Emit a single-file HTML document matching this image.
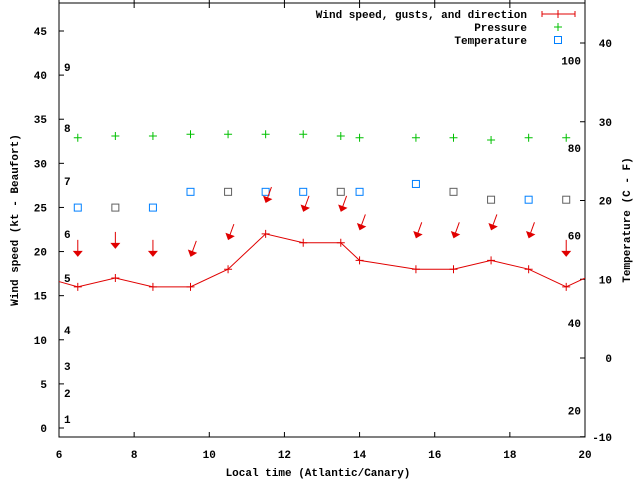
<!DOCTYPE html>
<html><head><meta charset="utf-8"><style>
body{margin:0;background:#fff}
svg{display:block;font-family:"Liberation Mono",monospace;font-size:11px;font-weight:bold}
</style></head><body>
<svg id="c" width="640" height="480" xmlns="http://www.w3.org/2000/svg"></svg>
<script>
const windHours=[6,6.5,7.5,8.5,9.5,10.5,11.5,12.5,13.5,14,15.5,16.5,17.5,18.5,19.5,20];
const windSpeeds=[16.6,16,17,16,16,18,22,21,21,19,18,18,19,18,16,17];
const arrowHours=[6.5,7.5,8.5,9.5,10.5,11.5,12.5,13.5,14,15.5,16.5,17.5,18.5,19.5];
const gustValues=[19.4,20.3,19.4,19.4,21.3,25.5,24.5,24.5,22.4,21.5,21.5,22.4,21.5,19.4];
const windDirs=[0,0,0,20,20,20,20,20,20,20,20,20,20,0];
const pressHours=[6.5,7.5,8.5,9.5,10.5,11.5,12.5,13.5,14,15.5,16.5,17.5,18.5,19.5];
const pressValues=[32.9,33.1,33.1,33.3,33.3,33.3,33.3,33.1,32.9,32.9,32.9,32.65,32.9,32.9];
const tempHours=[6.5,7.5,8.5,9.5,10.5,11.5,12.5,13.5,14,15.5,16.5,17.5,18.5,19.5];
const tempValues=[19.1,19.1,19.1,21.1,21.1,21.1,21.1,21.1,21.1,22.1,21.1,20.1,20.1,20.1];
const tempGray=[0,1,0,0,1,0,0,1,0,0,1,1,0,1];
const xTicks=[6,8,10,12,14,16,18,20];
const yTicks=[0,5,10,15,20,25,30,35,40,45];
const y2Ticks=[-10,0,10,20,30,40];
const beaufort=[[1,419],[2,393],[3,366],[4,330],[5,278],[6,234],[7,181],[8,128],[9,67]];
const fahr=[20,40,60,80,100];

const L=59,R=585,T=3,B=437;
const X=h=>L+(h-6)/14*(R-L);
const Y=v=>428-v*(428-31)/45;
const Y2=c=>358-c*(358-43)/40;
const svg=document.getElementById('c');
const NS='http://www.w3.org/2000/svg';
function mk(tag,a,parent){const e=document.createElementNS(NS,tag);for(const k in a)e.setAttribute(k,a[k]);(parent||svg).appendChild(e);return e;}
function txt(s,x,y,anchor){const e=mk('text',{x:x,y:y,'text-anchor':anchor||'start'});e.textContent=s;return e;}

let e=mk('rect',{x:L,y:T,width:R-L,height:B-T,fill:'none',stroke:'#000'});


xTicks.forEach(h=>{
  mk('line',{x1:X(h),x2:X(h),y1:B,y2:B-5,stroke:'#000'});
  mk('line',{x1:X(h),x2:X(h),y1:0,y2:T+5,stroke:'#000'});
  const t=txt(String(h),X(h),458,'middle');
  
  
});
yTicks.forEach(v=>{
  mk('line',{x1:L,x2:L+5,y1:Y(v),y2:Y(v),stroke:'#000'});
  const t=txt(String(v),47,Y(v)+4,'end');
  
  
});
y2Ticks.forEach(c=>{
  mk('line',{x1:R,x2:R-5,y1:Y2(c),y2:Y2(c),stroke:'#000'});
  const t=txt(String(c),612,Y2(c)+4,'end');
  
  
});
beaufort.forEach(b=>{const t=txt(String(b[0]),64,b[1]+4);
  
  });
fahr.forEach(f=>{const t=txt(String(f),581,Y2((f-32)*5/9)+4,'end');
  
  });

// temperature
tempHours.forEach((h,i)=>{
  const r=mk('rect',{x:X(h)-3.5,y:Y2(tempValues[i])-3.5,width:7,height:7,fill:'none',stroke:tempGray[i]?'#606060':'#0080ff'});
  
  
});
// pressure
pressHours.forEach((h,i)=>{
  const g=mk('path',{d:`M${X(h)-4},${Y(pressValues[i])}h8M${X(h)},${Y(pressValues[i])-4}v8`,stroke:'#00c000','stroke-width':1});
  
  
});
// wind line
const ln=mk('polyline',{points:windHours.map((h,i)=>X(h)+','+Y(windSpeeds[i])).join(' '),fill:'none',stroke:'#e00000'});


windHours.forEach((h,i)=>{if(i==0||i==windHours.length-1)return;
  const p=mk('path',{d:`M${X(h)-4},${Y(windSpeeds[i])}h8M${X(h)},${Y(windSpeeds[i])-4}v8`,stroke:'#e00000'});
  
  
});
// gust arrows
arrowHours.forEach((h,i)=>{
  const tx=X(h),ty=Y(gustValues[i]);
  const g=mk('g',{transform:`translate(${tx},${ty}) rotate(${windDirs[i]})`});
  
  
  mk('line',{x1:0,y1:-17,x2:0,y2:-4,stroke:'#e00000'},g);
  mk('path',{d:'M-5,-6L5,-6L0,0Z',fill:'#e00000'},g);
});
// legend
[['Wind speed, gusts, and direction',14],['Pressure',27],['Temperature',40]].forEach(l=>{
  const t=txt(l[0],527,l[1]+4,'end');
  
  
});
mk('path',{d:'M542,14h33M542,11v6M575,11v6M558,10v8',stroke:'#e00000'});
mk('path',{d:'M554,27h8M558,23v8',stroke:'#00c000'});
mk('rect',{x:554.5,y:36.5,width:7,height:7,fill:'none',stroke:'#0080ff'});
// axis titles
let a=txt('Local time (Atlantic/Canary)',318,476,'middle');


a=txt('Wind speed (kt - Beaufort)',0,0,'middle');
a.setAttribute('transform','translate(18,220) rotate(-90)');


a=txt('Temperature (C - F)',0,0,'middle');
a.setAttribute('transform','translate(630,220) rotate(-90)');


</script>
</body></html>
